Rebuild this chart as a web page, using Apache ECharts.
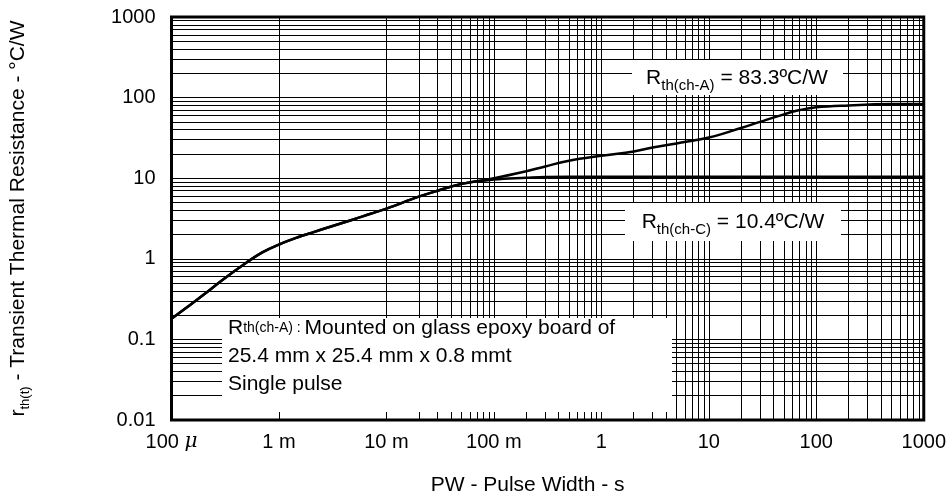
<!DOCTYPE html>
<html><head><meta charset="utf-8">
<script src="https://cdn.jsdelivr.net/npm/echarts@6/dist/echarts.min.js"></script>
<style>html,body{margin:0;padding:0;background:#fff}#c{width:949px;height:501px}</style>
</head><body><div id="c"></div>
<script>
const xTickValues = [1e-4, 1e-3, 1e-2, 1e-1, 1, 10, 100, 1000];
const xTickLabels = ['100 {mu|μ}', '1 m', '10 m', '100 m', '1', '10', '100', '1000'];
const yTickValues = [0.01, 0.1, 1, 10, 100, 1000];
const yTickLabels = ['0.01', '0.1', '1', '10', '100', '1000'];
const minorMultipliers = [2, 3, 4, 5, 6, 7, 8, 9];

const pulseWidthA = [1e-4, 1.5e-4, 2e-4, 3e-4, 5e-4, 7e-4, 1e-3, 1.5e-3, 2e-3, 3e-3, 5e-3, 7e-3, 1e-2, 2e-2, 3e-2, 5e-2, 0.1, 0.2, 0.3, 0.5, 1, 2, 3, 5, 10, 20, 30, 50, 70, 100, 200, 500, 1000];
const rthA        = [0.18, 0.27, 0.36, 0.55, 0.9, 1.2, 1.5, 1.85, 2.1, 2.5, 3.1, 3.6, 4.2, 5.9, 7.0, 8.5, 10, 12.2, 14, 16.5, 19, 21.5, 24, 27, 32, 42, 50, 62, 70, 76, 80, 83, 83.3];
const pulseWidthC = [1e-4, 1.5e-4, 2e-4, 3e-4, 5e-4, 7e-4, 1e-3, 1.5e-3, 2e-3, 3e-3, 5e-3, 7e-3, 1e-2, 2e-2, 3e-2, 5e-2, 0.1, 0.2, 0.3, 0.5, 1, 1000];
const rthC        = [0.18, 0.27, 0.36, 0.55, 0.9, 1.2, 1.5, 1.85, 2.1, 2.5, 3.1, 3.6, 4.2, 5.9, 7.0, 8.5, 9.6, 10.1, 10.35, 10.4, 10.4, 10.4];

const minorX = [], minorY = [];
for (let i = 0; i < xTickValues.length - 1; i++) minorMultipliers.forEach(m => minorX.push(xTickValues[i] * m));
for (let i = 0; i < yTickValues.length - 1; i++) minorMultipliers.forEach(m => minorY.push(yTickValues[i] * m));

const labelFor = (vals, labels) => v => {
  const lv = Math.log10(v);
  for (let i = 0; i < vals.length; i++) if (Math.abs(Math.log10(vals[i]) - lv) < 1e-6) return labels[i];
  return '';
};

const FONT = 'Liberation Sans, Arial, sans-serif';
const chart = echarts.init(document.getElementById('c'), null, {renderer: 'canvas'});

chart.setOption({
  animation: false,
  backgroundColor: '#fff',
  grid: {left: 161, right: 22, top: 17, bottom: 77, show: true, borderColor: '#000', borderWidth: 3, backgroundColor: '#fff'},
  xAxis: {
    type: 'log', logBase: 10, min: 1e-4, max: 1000, interval: 1,
    name: 'PW - Pulse Width - s', nameLocation: 'middle', nameGap: 55,
    nameTextStyle: {fontFamily: FONT, fontSize: 21, color: '#000', padding: [0, 40, 0, 0]},
    axisLine: {show: false}, axisTick: {show: false},
    axisLabel: {formatter: labelFor(xTickValues, xTickLabels), fontFamily: FONT, fontSize: 20, color: '#000', margin: 12,
      rich: {mu: {fontFamily: 'DejaVu Serif, serif', fontStyle: 'italic', fontSize: 20, color: '#000'}}},
    splitLine: {show: true, lineStyle: {color: '#000', width: 1}}
  },
  yAxis: {
    type: 'log', logBase: 10, min: 0.01, max: 1000, interval: 1,
    name: '{r|r}{sub|th(t)}{r| - Transient Thermal Resistance - °C/W}',
    nameLocation: 'middle', nameGap: 140, nameRotate: 90,
    nameTextStyle: {fontFamily: FONT, fontSize: 21, color: '#000',
      rich: {r: {fontFamily: FONT, fontSize: 21, color: '#000', lineHeight: 26},
             sub: {fontFamily: FONT, fontSize: 13, color: '#000', lineHeight: 26, verticalAlign: 'bottom'}}},
    axisLine: {show: false}, axisTick: {show: false},
    axisLabel: {formatter: labelFor(yTickValues, yTickLabels), fontFamily: FONT, fontSize: 20, color: '#000', margin: 16},
    splitLine: {show: true, lineStyle: {color: '#000', width: 1}}
  },
  series: [
    {
      type: 'line', name: 'grid', data: [], silent: true, z: 1,
      markLine: {
        silent: true, symbol: ['none', 'none'], animation: false,
        label: {show: false},
        lineStyle: {color: '#000', width: 1, type: 'solid'},
        emphasis: {disabled: true},
        data: minorX.map(v => ({xAxis: v})).concat(minorY.map(v => ({yAxis: v})))
      }
    },
    {
      type: 'line', name: 'Rth(ch-A)', z: 5, showSymbol: false, smooth: 0.4,
      lineStyle: {color: '#000', width: 2.5},
      data: pulseWidthA.map((x, i) => [x, rthA[i]])
    },
    {
      type: 'line', name: 'Rth(ch-C)', z: 5, showSymbol: false, smooth: 0.4,
      lineStyle: {color: '#000', width: 2.5},
      data: pulseWidthC.map((x, i) => [x, rthC[i]])
    }
  ]
});

const richTop = {
  r: {fontFamily: FONT, fontSize: 21, color: '#000', lineHeight: 30},
  sub: {fontFamily: FONT, fontSize: 15, color: '#000', lineHeight: 30, verticalAlign: 'bottom'}
};
const richNote = {
  r: {fontFamily: FONT, fontSize: 21, color: '#000', lineHeight: 28},
  sub: {fontFamily: FONT, fontSize: 14, color: '#000', lineHeight: 28}
};
chart.setOption({
  graphic: [
    {type: 'rect', z: 100, shape: {x: 632, y: 60, width: 211, height: 35}, style: {fill: '#fff'}},
    {type: 'text', z: 101, x: 737, y: 78, style: {text: '{r|R}{sub|th(ch-A)}{r| = 83.3ºC/W}', rich: richTop, align: 'center', verticalAlign: 'middle'}},
    {type: 'rect', z: 100, shape: {x: 625, y: 203, width: 216, height: 38}, style: {fill: '#fff'}},
    {type: 'text', z: 101, x: 733, y: 222, style: {text: '{r|R}{sub|th(ch-C)}{r| = 10.4ºC/W}', rich: richTop, align: 'center', verticalAlign: 'middle'}},
    {type: 'rect', z: 100, shape: {x: 222, y: 318, width: 450, height: 94}, style: {fill: '#fff'}},
    {type: 'text', z: 101, x: 228, y: 314, style: {
      text: '{r|R}{sub|th(ch-A) : }{r|Mounted on glass epoxy board of}\n{r|25.4 mm x 25.4 mm x 0.8 mmt}\n{r|Single pulse}',
      rich: richNote, align: 'left', verticalAlign: 'top'}}
  ]
});
</script></body></html>
